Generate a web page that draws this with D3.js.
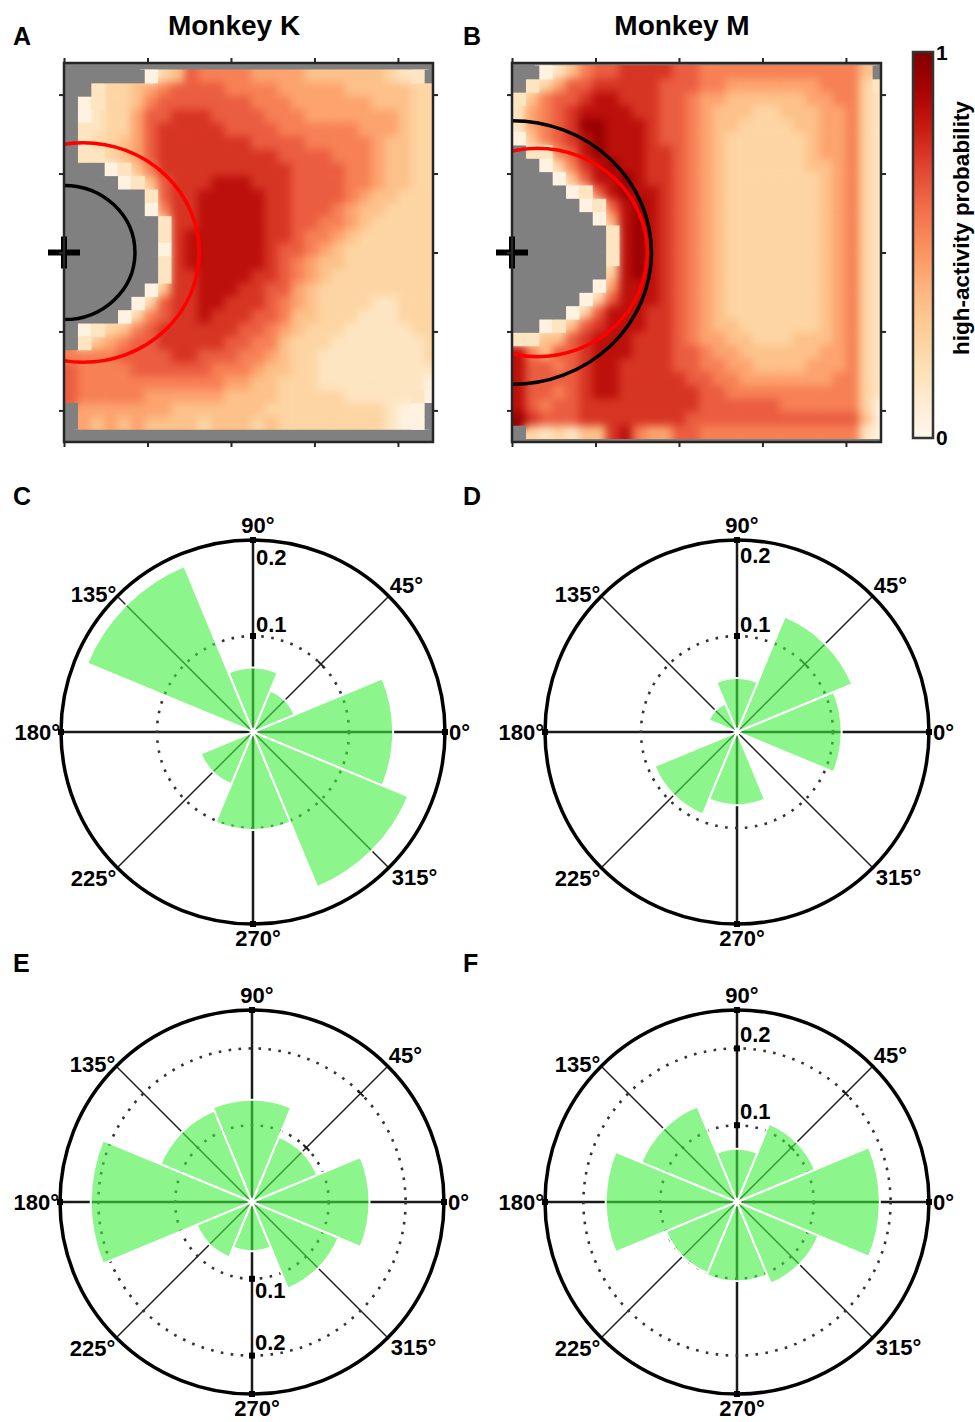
<!DOCTYPE html>
<html>
<head>
<meta charset="utf-8">
<script src="https://cdn.jsdelivr.net/npm/d3@7"></script>
<style>
  body { margin: 0; background: #fff; }
  svg { display: block; }
  text { font-family: "Liberation Sans", Arial, Helvetica, sans-serif; font-weight: bold; fill: #000; }
</style>
</head>
<body>
<svg id="fig" width="975" height="1422"></svg>
<script>
// heat map axes (data units), ticks shown without labels
const xTicks = [0, 1, 2, 3, 4];
const yTicks = [-2, -1, 0, 1, 2];

// high-activity probability, one char per cell: digit d -> d/10 + 0.04, '.' = no data (gray)
const monkeyK = [
  '......023655554444333333211.',
  '..12234566665555444443333322',
  '.012235666666655544444433322',
  '.012246677766665554444444322',
  '.112246777776666555555444322',
  '.122346777777766665555543322',
  '.112346777777777666655543322',
  '...0135777777777766665543322',
  '....013677788877766665543322',
  '......1677888887766665433222',
  '......0577888887766654332222',
  '.......177888887766554322222',
  '.......178888887765543222222',
  '.......078888887665432222222',
  '.......178888887654332222222',
  '.......177888877654322222222',
  '......0377888776643222222222',
  '.....02677887776543222211222',
  '....025677877766533222111222',
  '.012356777777665432221111122',
  '.134566777776655322211111112',
  '5555666677666554322111111112',
  '6555566666655543322111111111',
  '6555555555554433222111111110',
  '6555554444443333222221111110',
  '.44444443333333222222222100.',
  '.43434333323332322222222100.'
];

const monkeyM = [
  '..0135667777665555555555553.',
  '.124667777766655444444455521',
  '1356678877766544333333445521',
  '1456788887766543332233344521',
  '1456799888766543322223344521',
  '0356789888766543222222344521',
  '.115689888776543222222344521',
  '..02578988776543222222334521',
  '...0368898776543222222234521',
  '....016898876543222222234521',
  '.....01689876543222222234521',
  '......0489876543222222234521',
  '.......189876543222222234521',
  '.......189876543222222234521',
  '.......189876543222222234521',
  '.......289876543222222234521',
  '......0488876543222222234521',
  '.....02688876543222222234521',
  '....026888776543222222234521',
  '..01367888776543322222234521',
  '1133678887776544332223334521',
  '8536678887776654433333344521',
  '8665678877776655443333444521',
  '8666678877777665544444445521',
  '8665678877777766555555555521',
  '8656677777777766666655555520',
  '9766677777777666666666666630',
  '.212133785446655555555555510'
];

// rings drawn on the maps (data units)
const blackRingK = { cx: 0, r: 0.85 };
const redRingK = { cx: 0.23, r: 1.39 };
const blackRingM = { cx: 0, r: 1.67 };
const redRingM = { cx: 0.3, r: 1.32 };

// rose histograms, bins centred on these angles (deg)
const binAngles = [0, 45, 90, 135, 180, 225, 270, 315];
const roseC = [0.146, 0.047, 0.067, 0.187, 0, 0.059, 0.102, 0.175];
const roseD = [0.109, 0.130, 0.056, 0.032, 0, 0.093, 0.076, 0];
const roseE = [0.153, 0.092, 0.133, 0.129, 0.210, 0.078, 0.064, 0.122];
const roseF = [0.186, 0.110, 0.069, 0.135, 0.171, 0.100, 0.103, 0.115];
const rTicks = [0.1, 0.2];

const svg = d3.select('#fig');
const defs = svg.append('defs');
const color = d3.interpolateOrRd;
const toValue = ch => ch === '.' ? null : (+ch) / 10 + 0.04;

// soft edges between cells, alpha forced back to opaque
const soft = defs.append('filter').attr('id', 'soft').attr('color-interpolation-filters', 'sRGB')
  .attr('x', '-5%').attr('y', '-5%').attr('width', '110%').attr('height', '110%');
soft.append('feGaussianBlur').attr('stdDeviation', 4.5);
soft.append('feComponentTransfer').append('feFuncA').attr('type', 'discrete').attr('tableValues', '0 1 1 1 1 1 1 1 1 1');

function heatmap(id, rows, left, gridTop, title, ringRed, ringBlack) {
  const xs = d3.scaleLinear([0, 4.42], [left, left + 369]);
  const ys = d3.scaleLinear([-2.4, 2.4], [442, 63]);
  const cellW = 0.16, cellH = 0.169;
  const gridBottom = gridTop - rows.length * cellH;
  const g = svg.append('g');

  defs.append('clipPath').attr('id', id).append('rect')
    .attr('x', xs(0)).attr('y', ys(2.4)).attr('width', xs(4.42) - xs(0)).attr('height', ys(-2.4) - ys(2.4));
  defs.append('clipPath').attr('id', id + 'g').append('rect')
    .attr('x', xs(0)).attr('y', ys(gridTop)).attr('width', xs(4.42) - xs(0)).attr('height', ys(gridBottom) - ys(gridTop));
  g.append('rect').attr('x', xs(0)).attr('y', ys(2.4)).attr('width', xs(4.42) - xs(0)).attr('height', ys(-2.4) - ys(2.4))
    .attr('fill', '#808080');

  const isGap = (r, c) => r >= 0 && r < rows.length && c >= 0 && c < rows[r].length && rows[r][c] === '.';
  const cells = [];
  rows.forEach((row, r) => row.split('').forEach((chr, c) => {
    const v = toValue(chr);
    let rim = false;
    if (v !== null && v < 0.2) {
      for (let dr = -1; dr <= 1; dr++) for (let dc = -1; dc <= 1; dc++) if (isGap(r + dr, c + dc)) rim = true;
    }
    cells.push({ x: c * cellW, y: gridTop - r * cellH, v, rim });
  }));
  const cw = xs(cellW) - xs(0), chh = ys(0) - ys(cellH);
  const gridG = g.append('g').attr('clip-path', `url(#${id}g)`);
  const place = sel => sel.attr('x', d => xs(d.x)).attr('y', d => ys(d.y)).attr('width', cw + 0.6).attr('height', chh + 0.6);
  gridG.append('g').attr('filter', 'url(#soft)')
    .selectAll('rect').data(cells.filter(d => d.v !== null)).join('rect').call(place)
    .attr('fill', d => color(d.v));
  // crisp light rim next to the empty area, as in the original
  gridG.append('g').selectAll('rect').data(cells.filter(d => d.rim)).join('rect').call(place)
    .attr('fill', d => color(d.v));
  gridG.append('g').selectAll('rect').data(cells.filter(d => d.v === null)).join('rect').call(place)
    .attr('fill', '#808080');

  const ringG = g.append('g').attr('clip-path', `url(#${id})`);
  [[ringRed, '#ff0000'], [ringBlack, '#000']].forEach(([ring, col]) => {
    ringG.append('ellipse')
      .attr('cx', xs(ring.cx)).attr('cy', ys(0))
      .attr('rx', xs(ring.cx + ring.r) - xs(ring.cx)).attr('ry', ys(0) - ys(ring.r))
      .attr('fill', 'none').attr('stroke', col).attr('stroke-width', 3.5);
  });

  // cross at the origin
  const ox = xs(0), oy = ys(0);
  g.append('line').attr('x1', ox - 16).attr('x2', ox + 16).attr('y1', oy).attr('y2', oy).attr('stroke', '#000').attr('stroke-width', 6);
  g.append('line').attr('x1', ox).attr('x2', ox).attr('y1', oy - 16).attr('y2', oy + 16).attr('stroke', '#000').attr('stroke-width', 6);

  const axisStyle = sel => { sel.select('.domain').remove(); sel.selectAll('line').attr('stroke', '#262626').attr('stroke-width', 2); sel.selectAll('text').remove(); };
  g.append('g').attr('transform', `translate(0,${ys(2.4)})`).call(d3.axisTop(xs).tickValues(xTicks).tickSize(5)).call(axisStyle);
  g.append('g').attr('transform', `translate(0,${ys(-2.4)})`).call(d3.axisBottom(xs).tickValues(xTicks).tickSize(5)).call(axisStyle);
  g.append('g').attr('transform', `translate(${xs(0)},0)`).call(d3.axisLeft(ys).tickValues(yTicks).tickSize(5)).call(axisStyle);
  g.append('g').attr('transform', `translate(${xs(4.42)},0)`).call(d3.axisRight(ys).tickValues(yTicks).tickSize(5)).call(axisStyle);

  g.append('rect').attr('x', xs(0)).attr('y', ys(2.4)).attr('width', xs(4.42) - xs(0)).attr('height', ys(-2.4) - ys(2.4))
    .attr('fill', 'none').attr('stroke', '#262626').attr('stroke-width', 2.5);

  svg.append('text').attr('x', left + 170).attr('y', 35).attr('text-anchor', 'middle')
    .style('font-size', '28px').text(title);
}

heatmap('clipK', monkeyK, 64, 2.319, 'Monkey K', redRingK, blackRingK);
heatmap('clipM', monkeyM, 512, 2.37, 'Monkey M', redRingM, blackRingM);

// colour bar
const grad = defs.append('linearGradient').attr('id', 'cbar')
  .attr('x1', 0).attr('y1', 1).attr('x2', 0).attr('y2', 0);
d3.range(0, 1.0001, 0.05).forEach(t => grad.append('stop').attr('offset', t).attr('stop-color', color(t)));
const cb = d3.scaleLinear([0, 1], [438, 52]);
svg.append('rect').attr('x', 913).attr('y', cb(1)).attr('width', 20).attr('height', cb(0) - cb(1))
  .attr('fill', 'url(#cbar)').attr('stroke', '#333').attr('stroke-width', 2.5);
svg.append('text').attr('x', 936).attr('y', cb(1) + 8).style('font-size', '21px').text('1');
svg.append('text').attr('x', 936).attr('y', cb(0) + 7).style('font-size', '21px').text('0');
svg.append('text').attr('transform', 'translate(969,228) rotate(-90)').attr('text-anchor', 'middle')
  .style('font-size', '22.5px').text('high-activity probability');

// rose plots
const labelPos = {
  0: { dx: 4, dy: 8, anchor: 'start' },
  45: { dx: 1, dy: -3, anchor: 'start' },
  90: { dx: 5, dy: -7, anchor: 'middle' },
  135: { dx: -1, dy: 6, anchor: 'end' },
  180: { dx: -1, dy: 8, anchor: 'end' },
  225: { dx: -1, dy: 18, anchor: 'end' },
  270: { dx: 5, dy: 22, anchor: 'middle' },
  315: { dx: 3, dy: 17, anchor: 'start' }
};

function rose(cx, cy, vals, rmax, dotted, tickDir, tickDy) {
  const R = 192;
  const r = d3.scaleLinear([0, rmax], [0, R]);
  const rad = a => a * Math.PI / 180;
  const g = svg.append('g').attr('transform', `translate(${cx},${cy})`);

  g.selectAll('line.spoke').data(binAngles).join('line').attr('class', 'spoke')
    .attr('x1', 0).attr('y1', 0)
    .attr('x2', a => R * Math.cos(rad(a))).attr('y2', a => -R * Math.sin(rad(a)))
    .attr('stroke', '#1a1a1a').attr('stroke-width', a => a % 90 === 0 ? 2.5 : 1.4);

  g.selectAll('circle.dot').data(dotted).join('circle').attr('class', 'dot')
    .attr('r', d => r(d)).attr('fill', 'none').attr('stroke', '#333')
    .attr('stroke-width', 2.6).attr('stroke-dasharray', '2.6 7.4');

  // short ticks across the 45 deg spoke
  g.selectAll('line.t45').data(dotted).join('line').attr('class', 't45')
    .attr('x1', d => r(d) * Math.cos(rad(45)) - 3).attr('y1', d => -r(d) * Math.sin(rad(45)) - 3)
    .attr('x2', d => r(d) * Math.cos(rad(45)) + 3).attr('y2', d => -r(d) * Math.sin(rad(45)) + 3)
    .attr('stroke', '#1a1a1a').attr('stroke-width', 2);

  const arc = d3.arc().innerRadius(0);
  const bins = binAngles.map((a, i) => ({ a, v: vals[i] })).filter(d => d.v > 0);
  g.selectAll('path.w').data(bins).join('path').attr('class', 'w')
    .attr('d', d => arc({ outerRadius: r(d.v), startAngle: rad(90 - d.a - 22.5), endAngle: rad(90 - d.a + 22.5) }))
    .attr('fill', 'rgb(63,238,63)').attr('fill-opacity', 0.6)
    .attr('stroke', '#fff').attr('stroke-width', 2);

  g.append('circle').attr('r', R).attr('fill', 'none').attr('stroke', '#000').attr('stroke-width', 3.5);

  // square markers at the axis ends and on the tick axis
  const sq = [0, 90, 180, 270].map(a => [R * Math.cos(rad(a)), -R * Math.sin(rad(a))])
    .concat(dotted.map(d => [0, tickDir * r(d)]));
  g.selectAll('rect.sq').data(sq).join('rect').attr('class', 'sq')
    .attr('x', d => d[0] - 3).attr('y', d => d[1] - 3).attr('width', 6).attr('height', 6).attr('fill', '#000');

  g.selectAll('text.ang').data(binAngles).join('text').attr('class', 'ang')
    .attr('x', a => R * Math.cos(rad(a)) + labelPos[a].dx)
    .attr('y', a => -R * Math.sin(rad(a)) + labelPos[a].dy)
    .attr('text-anchor', a => labelPos[a].anchor)
    .style('font-size', '22px').text(a => a + '°');

  g.selectAll('text.rt').data(rTicks).join('text').attr('class', 'rt')
    .attr('x', 3).attr('y', (d, i) => tickDir * r(d) + tickDy[i])
    .style('font-size', '22px').text(d => d.toFixed(1));
}

rose(253, 732, roseC, 0.2, [0.1], -1, [-4, 25]);
rose(737, 732, roseD, 0.2, [0.1], -1, [-4, 23]);
rose(252, 1202, roseE, 0.25, [0.1, 0.2], 1, [19, -6]);
rose(737, 1202, roseF, 0.25, [0.1, 0.2], -1, [-6, -6]);

// panel letters
const panelLetters = ['A', 'B', 'C', 'D', 'E', 'F'];
const letterX = [13, 463];
const letterY = [45, 505, 972];
svg.selectAll('text.panel').data(panelLetters).join('text').attr('class', 'panel')
  .attr('x', (d, i) => letterX[i % 2]).attr('y', (d, i) => letterY[Math.floor(i / 2)])
  .style('font-size', '25px').text(d => d);
</script>
</body>
</html>
